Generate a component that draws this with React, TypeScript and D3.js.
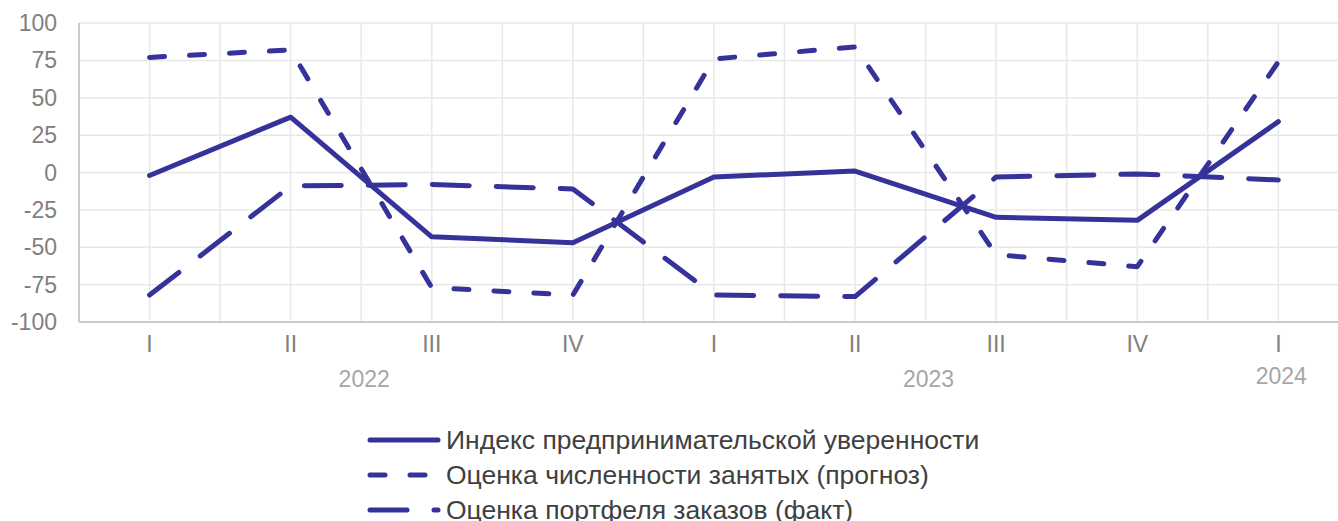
import React from "react";
import * as d3 from "d3";

// quarters along the x axis
const quarters = ["I", "II", "III", "IV", "I", "II", "III", "IV", "I"];
const years = [
  { label: "2022", first: 0, last: 3 },
  { label: "2023", first: 4, last: 7 },
  { label: "2024", first: 8, last: 8 },
];
const yTicks = [100, 75, 50, 25, 0, -25, -50, -75, -100];

// series values
const confidenceIndex = [-2, 37, -43, -47, -3, 1, -30, -32, 34];
const employmentForecast = [77, 82, -77, -82, 76, 84, -55, -63, 74];
const ordersActual = [-82, -9, -8, -11, -82, -83, -3, -1, -5];

const seriesNames = [
  "Индекс предпринимательской уверенности",
  "Оценка численности занятых (прогноз)",
  "Оценка портфеля заказов (факт)",
];
const seriesDash = [undefined, "15,25", "37,27"];
const seriesData = [confidenceIndex, employmentForecast, ordersActual];

const W = 1338;
const H = 521;
const margin = { top: 23, left: 79, bottom: 322 };
const lineColor = "#35339a";
const font = "'Liberation Sans', Arial, sans-serif";

const App: React.FC = () => {
  const x = d3
    .scaleBand<number>()
    .domain(quarters.map((_, i) => i))
    .range([margin.left, margin.left + 9 * 141.1])
    .paddingInner(0);
  const bw = x.bandwidth();
  const cx = (i: number) => (x(i) ?? 0) + bw / 2;

  const y = d3.scaleLinear().domain([-100, 100]).range([margin.bottom, margin.top]);

  const line = d3
    .line<number>()
    .x((_, i) => cx(i))
    .y((d) => y(d));

  // vertical grid: band edges and band centres
  const vGrid: number[] = [];
  quarters.forEach((_, i) => {
    vGrid.push(x(i) ?? 0);
    vGrid.push(cx(i));
  });

  return (
    <svg
      width={W}
      height={H}
      style={{ position: "absolute", left: 0, top: 0, background: "#fff" }}
      fontFamily={font}
    >
      {/* grid */}
      {yTicks.map((t) => (
        <line key={"h" + t} x1={margin.left} x2={W} y1={y(t)} y2={y(t)} stroke="#e8e8e8" strokeWidth={1.5} />
      ))}
      {vGrid.map((gx, i) => (
        <line key={"v" + i} x1={gx} x2={gx} y1={margin.top} y2={margin.bottom} stroke="#e8e8e8" strokeWidth={1.5} />
      ))}
      {/* axes */}
      <line x1={margin.left} x2={margin.left} y1={margin.top} y2={margin.bottom} stroke="#bfbfbf" strokeWidth={1.5} />
      <line x1={margin.left} x2={W} y1={margin.bottom} y2={margin.bottom} stroke="#bfbfbf" strokeWidth={1.5} />

      {/* y tick labels */}
      {yTicks.map((t) => (
        <text key={"yl" + t} x={57} y={y(t)} dy="0.35em" textAnchor="end" fontSize={23} fill="#808080">
          {t}
        </text>
      ))}

      {/* quarter labels */}
      {quarters.map((q, i) => (
        <text key={"q" + i} x={cx(i)} y={352} textAnchor="middle" fontSize={23} fill="#808080">
          {q}
        </text>
      ))}
      {/* year labels */}
      {years.map((yr) => (
        <text
          key={yr.label}
          x={(cx(yr.first) + cx(yr.last)) / 2 + 3}
          y={yr.first === yr.last ? 384 : 387}
          textAnchor="middle"
          fontSize={23}
          fill="#a6a6a6"
        >
          {yr.label}
        </text>
      ))}

      {/* series */}
      {seriesData.map((s, k) => (
        <path
          key={"s" + k}
          d={line(s) ?? ""}
          fill="none"
          stroke={lineColor}
          strokeWidth={5}
          strokeDasharray={seriesDash[k]}
          strokeLinecap="round"
          strokeLinejoin="round"
        />
      ))}

      {/* legend */}
      {seriesNames.map((name, k) => {
        const ly = 440 + k * 35;
        return (
          <g key={"lg" + k}>
            <line
              x1={370}
              x2={438}
              y1={ly}
              y2={ly}
              stroke={lineColor}
              strokeWidth={5}
              strokeDasharray={seriesDash[k]}
              strokeLinecap="round"
            />
            <text x={446} y={ly} dy="0.35em" fontSize={26.5} fill="#404040">
              {name}
            </text>
          </g>
        );
      })}
    </svg>
  );
};

export default App;
